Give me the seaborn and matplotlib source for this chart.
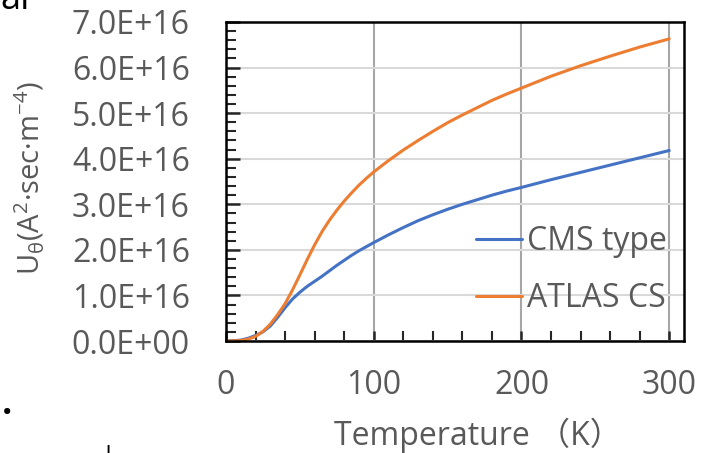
import numpy as np
import pandas as pd
import matplotlib
matplotlib.use('Agg')
import matplotlib.pyplot as plt
import seaborn as sns
from matplotlib.ticker import MultipleLocator, FuncFormatter

# Values (U in units of 1E16)
temperature = [0, 5, 10, 15, 20, 25, 30, 35, 40, 45, 50, 55, 60, 65, 70, 75, 80, 85, 90, 95,
               100, 110, 120, 130, 140, 150, 160, 170, 180, 190, 200,
               220, 240, 260, 280, 300]
cms_type = [0.0, 0.005, 0.02, 0.06, 0.12, 0.2, 0.33, 0.52, 0.73, 0.92, 1.07, 1.2, 1.31,
            1.42, 1.54, 1.66, 1.77, 1.88, 1.98, 2.07,
            2.16, 2.33, 2.49, 2.64, 2.77, 2.89, 3.0, 3.1, 3.2, 3.29, 3.37,
            3.54, 3.7, 3.86, 4.02, 4.18]
atlas_cs = [0.0, 0.002, 0.01, 0.04, 0.1, 0.21, 0.37, 0.58, 0.82, 1.12, 1.45, 1.79, 2.11,
            2.4, 2.65, 2.87, 3.07, 3.25, 3.42, 3.57,
            3.71, 3.96, 4.19, 4.4, 4.6, 4.79, 4.96, 5.12, 5.28, 5.42, 5.55,
            5.81, 6.04, 6.25, 6.45, 6.63]
series_names = ['CMS type', 'ATLAS CS']
colors = ['#4472C4', '#ED7D31']

df = pd.DataFrame({
    'T': temperature * 2,
    'U': np.array(cms_type + atlas_cs) * 1e16,
    'series': [series_names[0]] * len(temperature) + [series_names[1]] * len(temperature),
})

sns.set_theme(style='white')
plt.rcParams['font.family'] = ['Open Sans', 'Noto Sans CJK JP', 'DejaVu Sans']
plt.rcParams['mathtext.fontset'] = 'custom'
plt.rcParams['mathtext.rm'] = 'Open Sans'
plt.rcParams['mathtext.it'] = 'Open Sans:italic'
txt = '#595959'

fig = plt.figure(figsize=(7.04, 4.53), dpi=100)
ax = fig.add_axes([226 / 704, 1 - 341 / 453, 458 / 704, 319 / 453])

sns.lineplot(data=df, x='T', y='U', hue='series', palette=colors, linewidth=2.2, ax=ax)

ax.set_xlim(0, 310)
ax.set_ylim(0, 7e16)
ax.xaxis.set_major_locator(MultipleLocator(100))
ax.xaxis.set_minor_locator(MultipleLocator(20))
ax.yaxis.set_major_locator(MultipleLocator(1e16))
ax.yaxis.set_minor_locator(MultipleLocator(0.2e16))
ax.yaxis.set_major_formatter(FuncFormatter(lambda v, p: f'{v:.1E}'))
ax.yaxis.get_offset_text().set_visible(False)

ax.grid(True, axis='y', which='major', color='#d9d9d9', linewidth=1.5)
ax.grid(True, axis='x', which='major', color='#a6a6a6', linewidth=1.5)
ax.set_axisbelow(True)

for s in ax.spines.values():
    s.set_color('black')
    s.set_linewidth(1.8)

ax.tick_params(axis='y', which='major', direction='in', length=10, width=1.8,
               left=True, labelsize=23, labelcolor=txt, pad=26)
ax.tick_params(axis='y', which='minor', direction='in', length=7, width=1.5, left=True)
ax.tick_params(axis='x', which='major', direction='in', length=7, width=1.8,
               bottom=True, labelsize=23, labelcolor=txt, pad=20)
ax.tick_params(axis='x', which='minor', direction='in', length=7, width=1.5, bottom=True)

ax.set_xlabel('')
ax.set_ylabel('')

leg = ax.legend(loc='center left', bbox_to_anchor=((476 - 226) / 458, (341 - 270) / 319),
                frameon=False, fontsize=23, handlelength=1.45, handletextpad=0.15,
                labelspacing=0.75, borderpad=0, borderaxespad=0)
for t in leg.get_texts():
    t.set_color(txt)

fig.text(30 / 704, 1 - 178 / 453, r'U$_{\mathrm{θ}}$(A$^2$·sec·m$^{-4}$)', rotation=90,
         ha='center', va='center', fontsize=21, color=txt)
fig.text(478 / 704, 1 - 435 / 453, 'Temperature （K）', ha='center', va='center',
         fontsize=23, color=txt)

# stray fragments around the cropped figure
fig.text(0.0, 1 - 9 / 453, 'al', ha='left', va='baseline', fontsize=26, color='black')
fig.text(0.002, 1 - 414 / 453, '.', ha='left', va='baseline', fontsize=26,
         color='black', fontweight='bold')
fig.text(108 / 704, 1 - 445 / 453, '|', ha='center', va='top', fontsize=20, color='black')

fig.savefig('out.png', dpi=100)
